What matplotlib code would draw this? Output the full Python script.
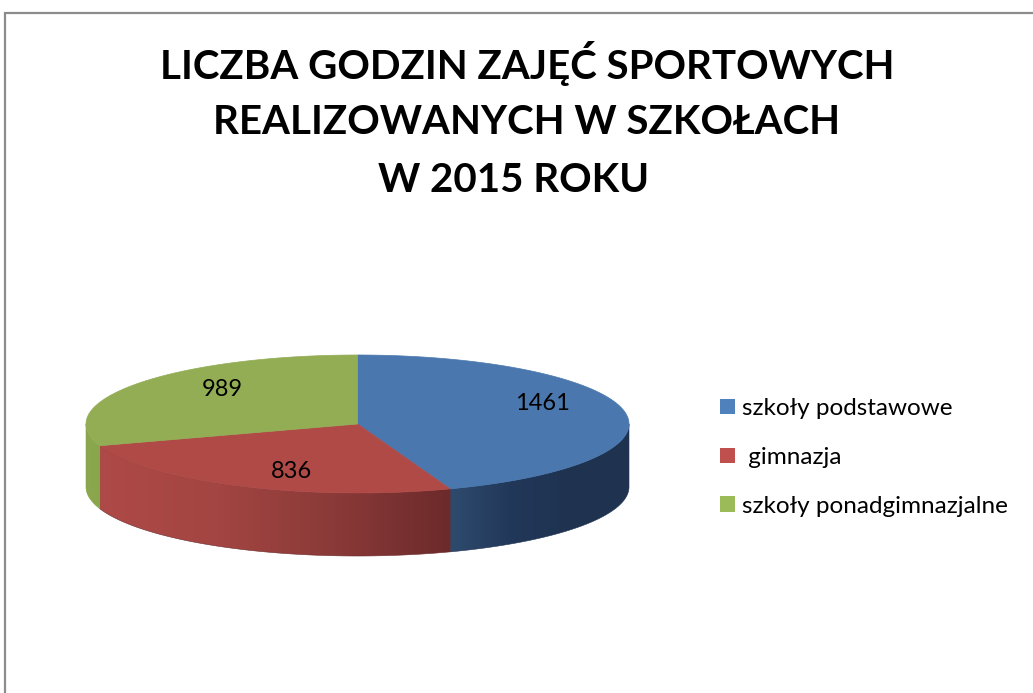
import numpy as np
import matplotlib
matplotlib.use("Agg")
import matplotlib.pyplot as plt
from matplotlib.patches import Polygon, Patch
from matplotlib.colors import LinearSegmentedColormap, to_rgb

# ---------------- data ----------------
categories = ["szkoły podstawowe", " gimnazja", "szkoły ponadgimnazjalne"]
values = [1461, 836, 989]
title_lines = ["LICZBA GODZIN ZAJĘĆ SPORTOWYCH", "REALIZOWANYCH W SZKOŁACH", "W 2015 ROKU"]

# ---------------- style / layout ----------------
top_colors = ["#4a78ae", "#b04a47", "#93ad55"]
legend_colors = ["#4f81bd", "#c0504d", "#9bbb59"]
wall_grad = [["#2e4b6e", "#22385a", "#1f3350", "#1f3350"],
             ["#ae4a47", "#a34542", "#8a3a38", "#6c2a2b"],
             ["#8ba84e", "#8aa64d"]]
label_pos = [(542, 403), (292, 472), (222, 390)]  # label anchors (pixels)

W, H = 1033, 693
CX, CY = 357.5, 424.0   # pie center (pixels)
A, B = 271.5, 69.0      # ellipse semi-axes
DEPTH = 63.0            # pie thickness

plt.rcParams['font.family'] = ['Lato', 'DejaVu Sans']

fig = plt.figure(figsize=(W / 100, H / 100), dpi=100)
ax = fig.add_axes([0, 0, 1, 1])
ax.set_xlim(0, W)
ax.set_ylim(H, 0)
ax.axis("off")

# border of the chart area
ax.plot([4.5, 4.5, W], [H, 12.5, 12.5], color="#8c8c8c", lw=1.6, zorder=1,
        solid_joinstyle="miter")


def pt(theta_deg, r=1.0, dy=0.0):
    t = np.radians(theta_deg)
    return CX + A * r * np.cos(t), CY - B * r * np.sin(t) + dy


total = float(sum(values))
start = 90.0
angles = []
for v in values:
    sweep = 360.0 * v / total
    angles.append((start - sweep, start))
    start -= sweep

# side walls (front half: theta in [-180, 0])
for i, (a0, a1) in enumerate(angles):
    for shift in (0.0, -360.0, 360.0):
        lo = max(a0 + shift, -180.0)
        hi = min(a1 + shift, 0.0)
        if hi <= lo:
            continue
        th = np.linspace(lo, hi, 200)
        xs, ys = pt(th)
        xb, yb = pt(th[::-1], dy=DEPTH)
        verts = np.column_stack([np.concatenate([xs, xb]), np.concatenate([ys, yb])])
        poly = Polygon(verts, closed=True, facecolor="none", edgecolor="none")
        ax.add_patch(poly)
        cmap = LinearSegmentedColormap.from_list("w%d" % i, [to_rgb(c) for c in wall_grad[i]])
        xmin, xmax = verts[:, 0].min(), verts[:, 0].max()
        ymin, ymax = verts[:, 1].min(), verts[:, 1].max()
        grad = np.linspace(0, 1, 256)[None, :]
        im = ax.imshow(grad, cmap=cmap, aspect="auto",
                       extent=(xmin, xmax, ymax, ymin), zorder=2,
                       interpolation="bilinear")
        im.set_clip_path(poly)
        ax.add_patch(Polygon(verts, closed=True, facecolor="none",
                             edgecolor=wall_grad[i][-1], lw=0.4, zorder=2))

# top surface slices
for i, (a0, a1) in enumerate(angles):
    th = np.linspace(a0, a1, 300)
    xs, ys = pt(th)
    verts = np.column_stack([np.concatenate([[CX], xs]), np.concatenate([[CY], ys])])
    ax.add_patch(Polygon(verts, closed=True, facecolor=top_colors[i],
                         edgecolor=top_colors[i], lw=0.5, zorder=3))

# data labels
for i, v in enumerate(values):
    x, y = label_pos[i]
    ax.text(x, y, str(v), ha="center", va="center", fontsize=17,
            color="black", zorder=5)

# title
title_y = [63, 122, 180]
title_x = [527, 527, 514]
for s, x, y in zip(title_lines, title_x, title_y):
    ax.text(x, y, s, ha="center", va="center", fontsize=29,
            fontweight="bold", color="black", zorder=5)

# legend
handles = [Patch(facecolor=c, edgecolor="none") for c in legend_colors]
leg = ax.legend(handles, categories, loc="upper left",
                bbox_to_anchor=(720 / W, 1 - 398 / H), bbox_transform=fig.transFigure,
                frameon=False, fontsize=17.5, labelspacing=1.15,
                handlelength=0.62, handleheight=0.62, handletextpad=0.3,
                borderpad=0, borderaxespad=0)

fig.savefig("out.png", dpi=100)
